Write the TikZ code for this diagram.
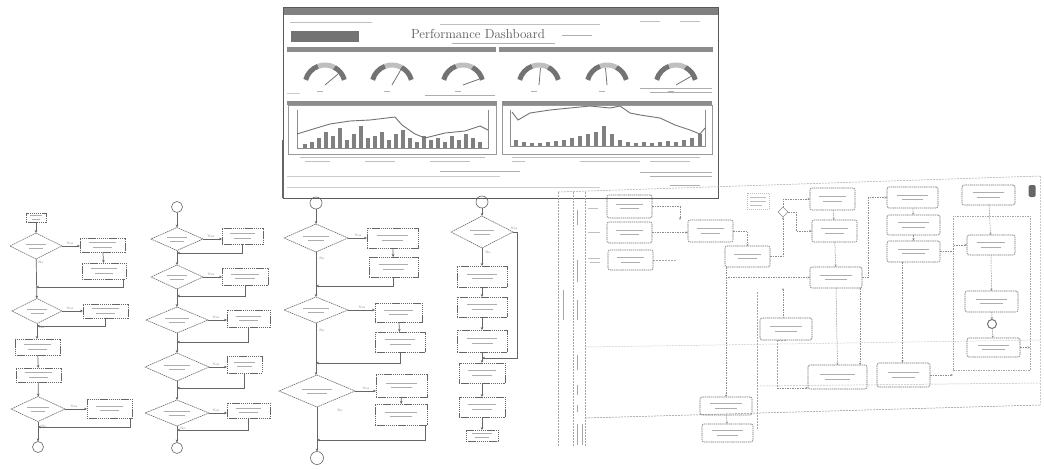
\documentclass[tikz,border=0pt]{standalone}
\usetikzlibrary{shapes.geometric,arrows.meta,calc}
\newcommand\mybox[6][fbox]{%
  \pgfmathsetmacro\mbx{(#3+#5)/2}%
  \pgfmathsetmacro\mby{(#4+#6)/2}%
  \pgfmathsetmacro\mbw{#5-#3}%
  \pgfmathsetmacro\mbh{#6-#4}%
  \pgfmathsetmacro\mbs{0.3*(#5-#3)}%
  \node[#1, minimum width=\mbw pt, minimum height=\mbh pt] (#2) at (\mbx,\mby) {};%
  \draw[scr] (\mbx-\mbs,\mby-2.2) -- (\mbx+\mbs,\mby-2.2);%
  \draw[scr] (\mbx-0.7*\mbs,\mby+2.2) -- (\mbx+0.7*\mbs,\mby+2.2);%
}
\newcommand\mydia[5]{%
  \node[fdia, minimum width=#4pt, minimum height=#5pt] (#1) at (#2,#3) {};%
  \draw[scr] (#2-0.2*#4,#3-1.8) -- (#2+0.2*#4,#3-1.8);%
  \draw[scr] (#2-0.13*#4,#3+2) -- (#2+0.13*#4,#3+2);%
}
\newcommand\mygauge[2]{%
  \begin{scope}[shift={(#1,85)},yscale=-1]
    \draw[black!55, line width=5pt] (165:20) arc[start angle=165,end angle=110,radius=20];
    \draw[black!25, line width=5pt] (110:20) arc[start angle=110,end angle=62,radius=20];
    \draw[black!55, line width=5pt] (62:20) arc[start angle=62,end angle=15,radius=20];
    \draw[black!55, line width=0.8pt] (0,0) -- (#2:17);
    \draw[black!30, line width=0.6pt] (-8,-6) -- (-2,-6);
  \end{scope}}
\begin{document}
\begin{tikzpicture}[x=1pt,y=-1pt,
  every node/.style={inner sep=0pt, outer sep=0pt},
  fbox/.style={draw=black!60, dash pattern=on 1.4pt off 0.7pt, line width=0.6pt, rectangle},
  sbox/.style={fbox, rounded corners=2pt, draw=black!55},
  fdia/.style={draw=black!60, dash pattern=on 1.4pt off 0.7pt, line width=0.6pt, diamond},
  fcirc/.style={draw=black!60, line width=0.6pt, circle},
  scr/.style={draw=black!32, line width=0.8pt},
  arr/.style={draw=black!60, line width=0.7pt, -{Stealth[length=3pt,width=2.6pt]}},
  swl/.style={draw=black!45, line width=0.5pt, dash pattern=on 1.5pt off 1pt, -{Stealth[length=2.5pt,width=2pt]}},
  lane/.style={draw=black!35, line width=0.5pt, dash pattern=on 2pt off 1pt},
  lbl/.style={font=\fontsize{3.2}{3.5}\selectfont, text=black!55},
]
\useasboundingbox (0,0) rectangle (1044,469);
\fill[white] (0,0) rectangle (1044,469);

% ================= Dashboard =================
\fill[black!50] (283,7) rectangle (718,15);
\draw[black!65, line width=0.8pt] (283,7) rectangle (718,198);
\draw[scr, black!25] (290,22) -- (372,22) (440,24) -- (600,24) (640,21) -- (660,21) (680,21) -- (700,21);
\fill[black!55] (291,31) rectangle (359,42);
\node[font=\fontsize{13}{13}\selectfont, text=black!65] (title) at (478,34) {Performance Dashboard};
\draw[scr] (562,35) -- (592,35);
\draw[scr] (452,43) -- (555,43);
\fill[black!45] (287,47) rectangle (496,52);
\fill[black!45] (499,47) rectangle (713,52);
\mygauge{325}{40}
\mygauge{392}{60}
\mygauge{463}{20}
\mygauge{539}{85}
\mygauge{607}{95}
\mygauge{676}{30}
\draw[scr] (425,95) -- (495,95);
\draw[scr] (640,88) -- (712,88) (650,92) -- (712,92);
\draw[scr, black!20] (287,93) -- (300,93);
% charts
\fill[black!45] (287,101) rectangle (497,105);
\fill[black!45] (502,101) rectangle (712,105);
\draw[black!40, line width=0.5pt] (288,105) rectangle (496,154);
\draw[black!40, line width=0.5pt] (502,105) rectangle (712,154);
\draw[black!45, line width=0.5pt] (297,110) -- (297,148) -- (488,148) -- (488,110);
\draw[black!45, line width=0.5pt] (510,110) -- (510,146) -- (705,146) -- (705,110);
\foreach \h [count=\i from 0] in {4,6,10,16,12,20,8,14,22,10,12,16,8,14,18,10,6,12,8,10,6,12,8,14,10,6}
  \fill[black!50] ({303+7*\i},148) rectangle ++(3.5,-\h);
\draw[black!55, line width=0.9pt] (297,134) -- (310,130) -- (330,124) -- (350,121) -- (370,120) -- (395,117) -- (402,125) -- (415,134) -- (425,138) -- (445,133) -- (465,131) -- (480,126) -- (488,130);
\foreach \h [count=\i from 0] in {6,4,3,3,4,5,6,8,10,12,14,20,12,6,4,3,4,3,4,5,4,6,8,12}
  \fill[black!50] ({514+8*\i},146) rectangle ++(3.5,-\h);
\draw[black!55, line width=0.9pt] (512,112) -- (518,120) -- (530,113) -- (550,110) -- (570,108) -- (590,106) -- (610,108) -- (620,106) -- (630,113) -- (640,115) -- (660,118) -- (675,125) -- (690,130) -- (700,134) -- (705,128);
\draw[scr, black!25] (300,157) -- (485,157) (512,157) -- (700,157);
\draw[scr, black!25] (305,161) -- (330,161) (365,161) -- (395,161) (430,161) -- (470,161);
\draw[scr, black!25] (512,161) -- (525,161) (580,161) -- (640,161) (650,161) -- (690,161);
\draw[scr] (440,171) -- (520,171) (640,172) -- (712,172) (650,176) -- (712,176);
\draw[scr, black!20] (287,176) -- (500,176) (287,187) -- (600,187);
\draw[scr] (670,185) -- (700,185);
\draw[black!60, line width=1.2pt] (283,140) -- (283,198);

% ================= Flowchart 1 =================
\mybox{s1}{26}{213}{46}{222}
\mydia{d1}{36}{246}{52}{26}
\mybox{a1}{80}{238}{125}{252}
\mybox{b1}{82}{263}{126}{279}
\coordinate (j1) at (36,287);
\mydia{d2}{37}{311}{50}{25}
\mybox{c1}{83}{304}{128}{318}
\coordinate (j2) at (37,326);
\mybox{e1}{15}{339}{60}{355}
\mybox{f1}{16}{368}{61}{382}
\mydia{d3}{38}{409}{54}{25}
\mybox{g1}{87}{399}{132}{418}
\coordinate (j3) at (38,427);
\node[fcirc, minimum size=11pt] (t1) at (38,447) {};
\draw[arr] (s1) -- (d1);
\draw[arr] (d1.east) -- (d1.east -| a1.west);
\draw[arr] (a1) -- (b1);
\draw[arr] ([xshift=-3pt]b1.south east) |- (j1);
\draw[arr] (d1) -- (d2);
\draw[arr] (d2.east) -- (d2.east -| c1.west);
\draw[arr] (c1.south) |- (j2);
\draw[arr] (d2.south) -- (d2.south |- e1.north);
\draw[arr] (e1) -- (f1);
\draw[arr] (f1) -- (d3);
\draw[arr] (d3.east) -- (d3.east -| g1.west);
\draw[arr] ([xshift=-2pt]g1.south east) |- (j3);
\draw[arr] (d3) -- (t1);
\node[lbl] (y11) at (70,243) {Yes};
\node[lbl] (n11) at (41,262) {No};
\node[lbl] (y12) at (70,308) {Yes};
\node[lbl] (n12) at (42,327) {No};
\node[lbl] (y13) at (74,406) {Yes};
\node[lbl] (n13) at (44,426) {No};

% ================= Flowchart 2 =================
\node[fcirc, minimum size=11pt] (t2) at (177,207) {};
\mydia{d21}{177}{239}{52}{23}
\mybox{a21}{222}{228}{263}{244}
\coordinate (j21) at (177,253);
\mydia{d22}{177}{277}{52}{24}
\mybox{a22}{222}{268}{268}{285}
\coordinate (j22) at (177,296);
\mydia{d23}{177}{320}{62}{26}
\mybox{a23}{227}{310}{270}{327}
\coordinate (j23) at (177,342);
\mydia{d24}{177}{367}{64}{28}
\mybox{a24}{227}{356}{262}{373}
\coordinate (j24) at (177,388);
\mydia{d25}{177}{413}{64}{26}
\mybox{a25}{227}{403}{270}{418}
\coordinate (j25) at (177,430);
\node[fcirc, minimum size=11pt] (t3) at (177,448) {};
\draw[arr] (t2) -- (d21);
\draw[arr] (d21.east) -- (d21.east -| a21.west);
\draw[arr] (a21.south) |- (j21);
\draw[arr] (d21) -- (d22);
\draw[arr] (d22.east) -- (d22.east -| a22.west);
\draw[arr] (a22.south) |- (j22);
\draw[arr] (d22) -- (d23);
\draw[arr] (d23.east) -- (d23.east -| a23.west);
\draw[arr] (a23.south) |- (j23);
\draw[arr] (d23) -- (d24);
\draw[arr] (d24.east) -- (d24.east -| a24.west);
\draw[arr] (a24.south) |- (j24);
\draw[arr] (d24) -- (d25);
\draw[arr] (d25.east) -- (d25.east -| a25.west);
\draw[arr] (a25.south) |- (j25);
\draw[arr] (d25) -- (t3);
\node[lbl] (y21) at (211,236) {Yes};
\node[lbl] (y22) at (211,274) {Yes};
\node[lbl] (y23) at (216,317) {Yes};
\node[lbl] (y24) at (216,364) {Yes};
\node[lbl] (y25) at (216,410) {Yes};
\node[lbl] (n25) at (183,428) {No};

% ================= Flowchart 3 =================
\node[fcirc, minimum size=12pt] (t4) at (316,203) {};
\mydia{d31}{316}{238}{64}{28}
\mybox{a31}{367}{228}{418}{248}
\mybox{b31}{369}{257}{418}{277}
\coordinate (j31) at (316,286);
\mydia{d32}{316}{310}{64}{26}
\mybox{a32}{375}{303}{422}{322}
\mybox{b32}{375}{332}{425}{352}
\coordinate (j32) at (316,363);
\mydia{d33}{317}{391}{76}{32}
\mybox{a33}{376}{374}{427}{397}
\mybox{b33}{375}{404}{427}{425}
\coordinate (j33) at (317,440);
\node[fcirc, minimum size=13pt] (t5) at (317,458) {};
\draw[arr] (t4) -- (d31);
\draw[arr] (d31.east) -- (d31.east -| a31.west);
\draw[arr] (a31) -- (b31);
\draw[arr] (b31.south) |- (j31);
\draw[arr] (d31) -- (d32);
\draw[arr] (d32.east) -- (d32.east -| a32.west);
\draw[arr] (a32) -- (b32);
\draw[arr] (b32.south) |- (j32);
\draw[arr] (d32.south) -- (d32.south |- d33.north);
\draw[arr] (d33.east) -- (d33.east -| a33.west);
\draw[arr] (a33) -- (b33);
\draw[arr] ([xshift=-2pt]b33.south east) |- (j33);
\draw[arr] (d33) -- (t5);
\node[lbl] (y31) at (358,235) {Yes};
\node[lbl] (n31) at (322,258) {No};
\node[lbl] (y32) at (362,307) {Yes};
\node[lbl] (n32) at (322,330) {No};
\node[lbl] (y33) at (366,388) {Yes};
\node[lbl] (n33) at (340,410) {No};

% ================= Flowchart 4 =================
\node[fcirc, minimum size=12pt] (t6) at (482,202) {};
\mydia{d41}{482}{232}{62}{32}
\mybox{a41}{457}{266}{507}{287}
\mybox{a42}{457}{297}{507}{317}
\mybox{a43}{457}{330}{507}{352}
\coordinate (j41) at (482,358);
\coordinate (k41) at (517,232);
\mybox{a44}{459}{363}{505}{383}
\mybox{a45}{459}{397}{505}{417}
\mybox{t7}{466}{430}{498}{441}
\draw[arr] (t6) -- (d41);
\draw[arr] (d41) -- (a41);
\draw[arr] (a41) -- (a42);
\draw[arr] (a42) -- (a43);
\draw[arr] (a43) -- (a44);
\draw[arr] (d41.east) -- (k41) |- (j41);
\draw[arr] (a44) -- (a45);
\draw[arr] (a45) -- (t7);
\node[lbl] (n41) at (488,252) {No};
\node[lbl] (y41) at (514,228) {Yes};

% ================= Swimlane diagram =================
\draw[lane] (558,192) -- (1040,176);
\draw[lane, black!20] (585,347) -- (1040,340);
\draw[lane, black!25] (760,386) -- (1040,383);
\draw[lane, black!45] (585,418) -- (1040,405);
\draw[lane] (558,192) -- (558,447);
\draw[lane] (573,192) -- (573,447);
\draw[lane] (585,192) -- (585,447);
\draw[lane, black!20] (1040,176) -- (1040,405);
\draw[scr, black!35] (577,210) -- (577,225) (577,260) -- (577,282) (563,290) -- (563,320) (577,300) -- (577,320) (577,355) -- (577,370) (577,385) -- (577,395) (577,405) -- (577,412) (577,424) -- (577,445) (582,424) -- (582,445);
\draw[scr, black!25] (588,208) -- (598,208) (588,232) -- (600,232) (588,258) -- (600,258) (590,262) -- (600,262);
\mybox[sbox]{S1}{607}{195}{652}{218}
\mybox[sbox]{S2}{607}{222}{652}{243}
\mybox[sbox]{S3}{608}{250}{653}{270}
\mybox[sbox]{S4}{688}{220}{733}{242}
\mybox[sbox]{S5}{725}{246}{770}{267}
\mybox[sbox]{S6}{810}{188}{855}{210}
\mybox[sbox]{S7}{812}{220}{857}{242}
\mybox[sbox]{S8}{810}{267}{862}{288}
\mybox[sbox]{S9}{887}{187}{938}{208}
\mybox[sbox]{S10}{887}{215}{940}{235}
\mybox[sbox]{S11}{887}{241}{940}{262}
\mybox[sbox]{S12}{962}{185}{1015}{205}
\mybox[sbox]{S13}{967}{235}{1015}{255}
\mybox[sbox]{S14}{965}{291}{1018}{312}
\node[draw=black!55, line width=1pt, circle, minimum size=9pt] (E1) at (992,324) {};
\mybox[sbox]{S15}{967}{338}{1020}{357}
\mybox[sbox]{S16}{760}{318}{812}{340}
\mybox[sbox]{S17}{808}{365}{867}{389}
\mybox[sbox]{S18}{877}{363}{930}{387}
\mybox[sbox]{S19}{700}{397}{752}{415}
\mybox[sbox]{S20}{702}{424}{753}{442}
\node[draw=black!45, diamond, line width=0.5pt, minimum width=10pt, minimum height=10pt] (G) at (783,212) {};
\node[draw=black!25, dash pattern=on 1pt off 1pt, minimum width=22pt, minimum height=16pt] (N1) at (758,201) {};
\draw[scr, black!25] (750,197) -- (766,197) (750,201) -- (766,201) (750,205) -- (762,205);
\node[fill=black!60, rounded corners=1.5pt, minimum width=7pt, minimum height=12pt] (ic) at (1032,191) {};
\node[draw=black!35, dash pattern=on 1.5pt off 1pt, minimum width=77pt, minimum height=154pt] (grp) at (991.5,293) {};
\coordinate (c3) at (676,260);
\coordinate (c7) at (757,292);
\coordinate (c8) at (757,430);
\coordinate (c12) at (777,340);
\coordinate (c13) at (777,388);
\draw[swl] (S2.east) -- (S2.east -| S4.west);
\draw[swl] (S1.east) -| ([xshift=-8pt]S4.north west);
\draw[lane] (S3.east) -- (c3);
\draw[swl] (S4.east) -| (S5.north);
\draw[swl] (S5.east) -| (G.south);
\draw[swl] (G.north) |- (S6.west);
\draw[swl] (G.east) -| ([xshift=-16pt]S7.west) -- (S7.west);
\draw[swl] (S6) -- (S7);
\draw[swl] (S7) -- (S8);
\draw[swl] ([xshift=1pt]S5.south west) |- (S8.west);
\draw[swl] ([xshift=1pt]S5.south west) -- ([xshift=1pt]S5.south west |- S19.north);
\draw[swl] (S19) -- (S20);
\draw[lane] (c7) -- (c8);
\draw[swl] (S8.south) -- (S17.north);
\draw[swl] ([xshift=-2pt]S8.south east) -- ([xshift=-7pt]S17.north east);
\draw[swl] (S8.east) -| ([xshift=-19pt]S9.west) -- (S9.west);
\draw[swl] (S9) -- (S10);
\draw[swl] (S10) -- (S11);
\draw[swl] ([xshift=-11pt]S11.south) -- ([xshift=-1pt]S18.north);
\draw[swl] (S11.east) -| (grp.west |- S13.west) -- (S13.west);
\draw[swl] (S18.east) -- (S18.east -| grp.west);
\draw[swl] (S12) -- (S13);
\draw[swl] (S13) -- (S14);
\draw[swl] (S14) -- (E1);
\draw[swl] (E1) -- (S15);
\draw[lane] ([xshift=-9pt]S16.south) -- (c13);
\draw[swl] (c13) -- (c13 -| S17.west);
\draw[lane] (S16.south) -- (c12);
\draw[swl] ([xshift=-3pt]S16.north) -- ([xshift=-3pt]S16.north |- S8.south);
\draw[swl] (S15.east) -- (S15.east -| grp.east);
\end{tikzpicture}
\end{document}
